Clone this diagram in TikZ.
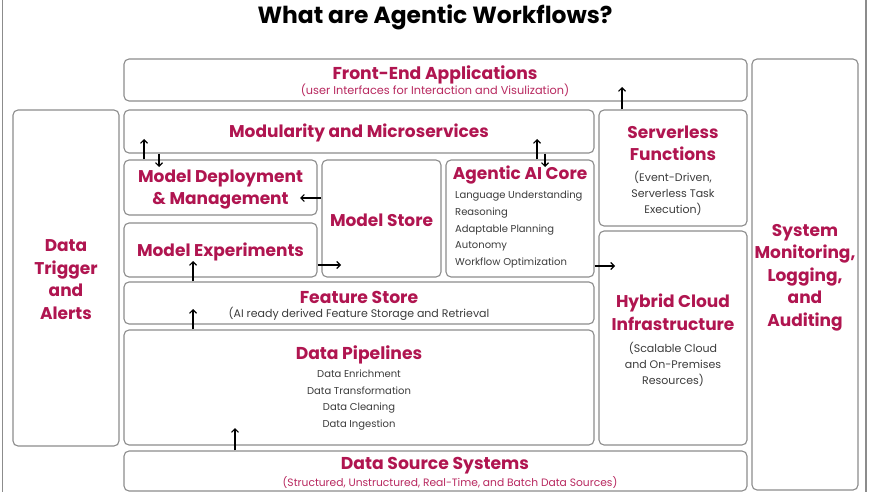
\documentclass[tikz,border=0pt]{standalone}
\usepackage{fontspec}
\setmainfont{Poppins}
\usetikzlibrary{arrows.meta}
\definecolor{pink}{HTML}{B01550}
\definecolor{pinksub}{HTML}{B8285F}
\definecolor{subgray}{HTML}{3C3C3C}
\definecolor{boxgray}{HTML}{8C8C8C}
\tikzset{
  box/.style={draw=boxgray, rounded corners=5pt, line width=1.1pt, inner sep=0pt, fill=white},
  head/.style={text=pink, font=\bfseries\fontsize{17}{22.5}\selectfont, align=center, inner sep=0pt, yshift=-1.5pt},
  headsm/.style={text=pink, font=\bfseries\fontsize{17.2}{21}\selectfont, align=center, inner sep=0pt, yshift=-1.5pt},
  subp/.style={text=pinksub, font=\fontsize{11.3}{12}\selectfont, align=center, inner sep=0pt},
  subg/.style={text=subgray, font=\fontsize{11}{16}\selectfont, align=center, inner sep=0pt},
  items/.style={text=subgray, font=\fontsize{10}{16.75}\selectfont, inner sep=0pt},
  arr/.style={-{Straight Barb[length=3.5pt,width=7pt]}, line width=1.1pt, black},
}
\begin{document}
\begin{tikzpicture}[x=1pt,y=-1pt]
\useasboundingbox (0,0) rectangle (870,492);
\fill[white] (0,0) rectangle (870,492);
\draw[boxgray, line width=1.2pt] (2.5,0) -- (2.5,492);
\draw[boxgray, line width=1.2pt] (866,0) -- (866,492);

\node[font=\bfseries\fontsize{23.4}{26}\selectfont, inner sep=0pt] (title) at (435,17) {What are Agentic Workflows?};

% boxes
\node[box, minimum width=623pt, minimum height=42pt] (fe) at (435.5,80) {};
\node[box, minimum width=106pt, minimum height=431pt] (sysmon) at (805,274.5) {};
\node[box, minimum width=106pt, minimum height=336pt] (trig) at (66,278) {};
\node[box, minimum width=470pt, minimum height=43pt] (mod) at (359,131.5) {};
\node[box, minimum width=148pt, minimum height=116pt] (srv) at (673,168) {};
\node[box, minimum width=193pt, minimum height=55pt] (mdm) at (220.5,187.5) {};
\node[box, minimum width=119pt, minimum height=117pt] (mst) at (381.5,218.5) {};
\node[box, minimum width=148pt, minimum height=117pt] (core) at (520,218.5) {};
\node[box, minimum width=193pt, minimum height=54pt] (mexp) at (220.5,250) {};
\node[box, minimum width=148pt, minimum height=214pt] (hyb) at (673,338) {};
\node[box, minimum width=470pt, minimum height=42pt] (fs) at (359,303) {};
\node[box, minimum width=470pt, minimum height=115pt] (dp) at (359,387.5) {};
\node[box, minimum width=623pt, minimum height=40pt] (dss) at (435.5,471) {};

% texts
\node[headsm] (feT) at (435,73) {Front-End Applications};
\node[subp] (feS) at (435,90.5) {(user Interfaces for Interaction and Visulization)};
\node[head] (sysT) at (805,276) {System\\Monitoring,\\Logging,\\and\\Auditing};
\node[head] (trigT) at (66,278) {Data\\Trigger\\and\\Alerts};
\node[head] (modT) at (359,131) {Modularity and Microservices};
\node[head] (srvT) at (673,142) {Serverless\\Functions};
\node[subg] (srvS) at (673,193) {(Event-Driven,\\Serverless Task\\Execution)};
\node[head] (mdmT) at (220.5,188) {Model Deployment\\\& Management};
\node[head] (mstT) at (381.5,219) {Model Store};
\node[head] (coreT) at (520,174) {Agentic AI Core};
\node[items, anchor=west, align=left] (coreI) at (455,229.5) {Language Understanding\\Reasoning\\Adaptable Planning\\Autonomy\\Workflow Optimization};
\node[head] (mexpT) at (220.5,250) {Model Experiments};
\node[head] (hybT) at (673,311) {Hybrid Cloud\\Infrastructure};
\node[subg] (hybS) at (673,364) {(Scalable Cloud\\and On-Premises\\Resources)};
\node[headsm] (fsT) at (359,296) {Feature Store};
\node[subg] (fsS) at (359,313.5) {(AI ready derived Feature Storage and Retrieval};
\node[headsm] (dpT) at (359,353) {Data Pipelines};
\node[items, align=center] (dpI) at (359,400) {Data Enrichment\\Data Transformation\\Data Cleaning\\Data Ingestion};
\node[headsm] (dssT) at (435,464) {Data Source Systems};
\node[subp, font=\fontsize{10.7}{12}\selectfont] (dssS) at (450,482.5) {(Structured, Unstructured, Real-Time, and Batch Data Sources)};

% arrow end coordinates
\coordinate (c1) at (144,139);
\coordinate (c2) at (159,167);
\coordinate (c3) at (537,139);
\coordinate (c4) at (545,167);
\coordinate (c5) at (300,198);
\coordinate (c6) at (341,265);
\coordinate (c7) at (615,266);
\coordinate (c8) at (622,87);
\coordinate (c9) at (193,261);
\coordinate (c10) at (193,309);
\coordinate (c11) at (235,428);

\draw[arr] (mdm.north -| c1) -- (c1);
\draw[arr] (mod.south -| c2) -- (c2);
\draw[arr] (core.north -| c3) -- (c3);
\draw[arr] (mod.south -| c4) -- (c4);
\draw[arr] (mst.west |- c5) -- (c5);
\draw[arr] (mexp.east |- c6) -- (c6);
\draw[arr] (core.east |- c7) -- (c7);
\draw[arr] (srv.north -| c8) -- (c8);
\draw[arr] (fs.north -| c9) -- (c9);
\draw[arr] (dp.north -| c10) -- (c10);
\draw[arr] (dss.north -| c11) -- (c11);
\end{tikzpicture}
\end{document}
